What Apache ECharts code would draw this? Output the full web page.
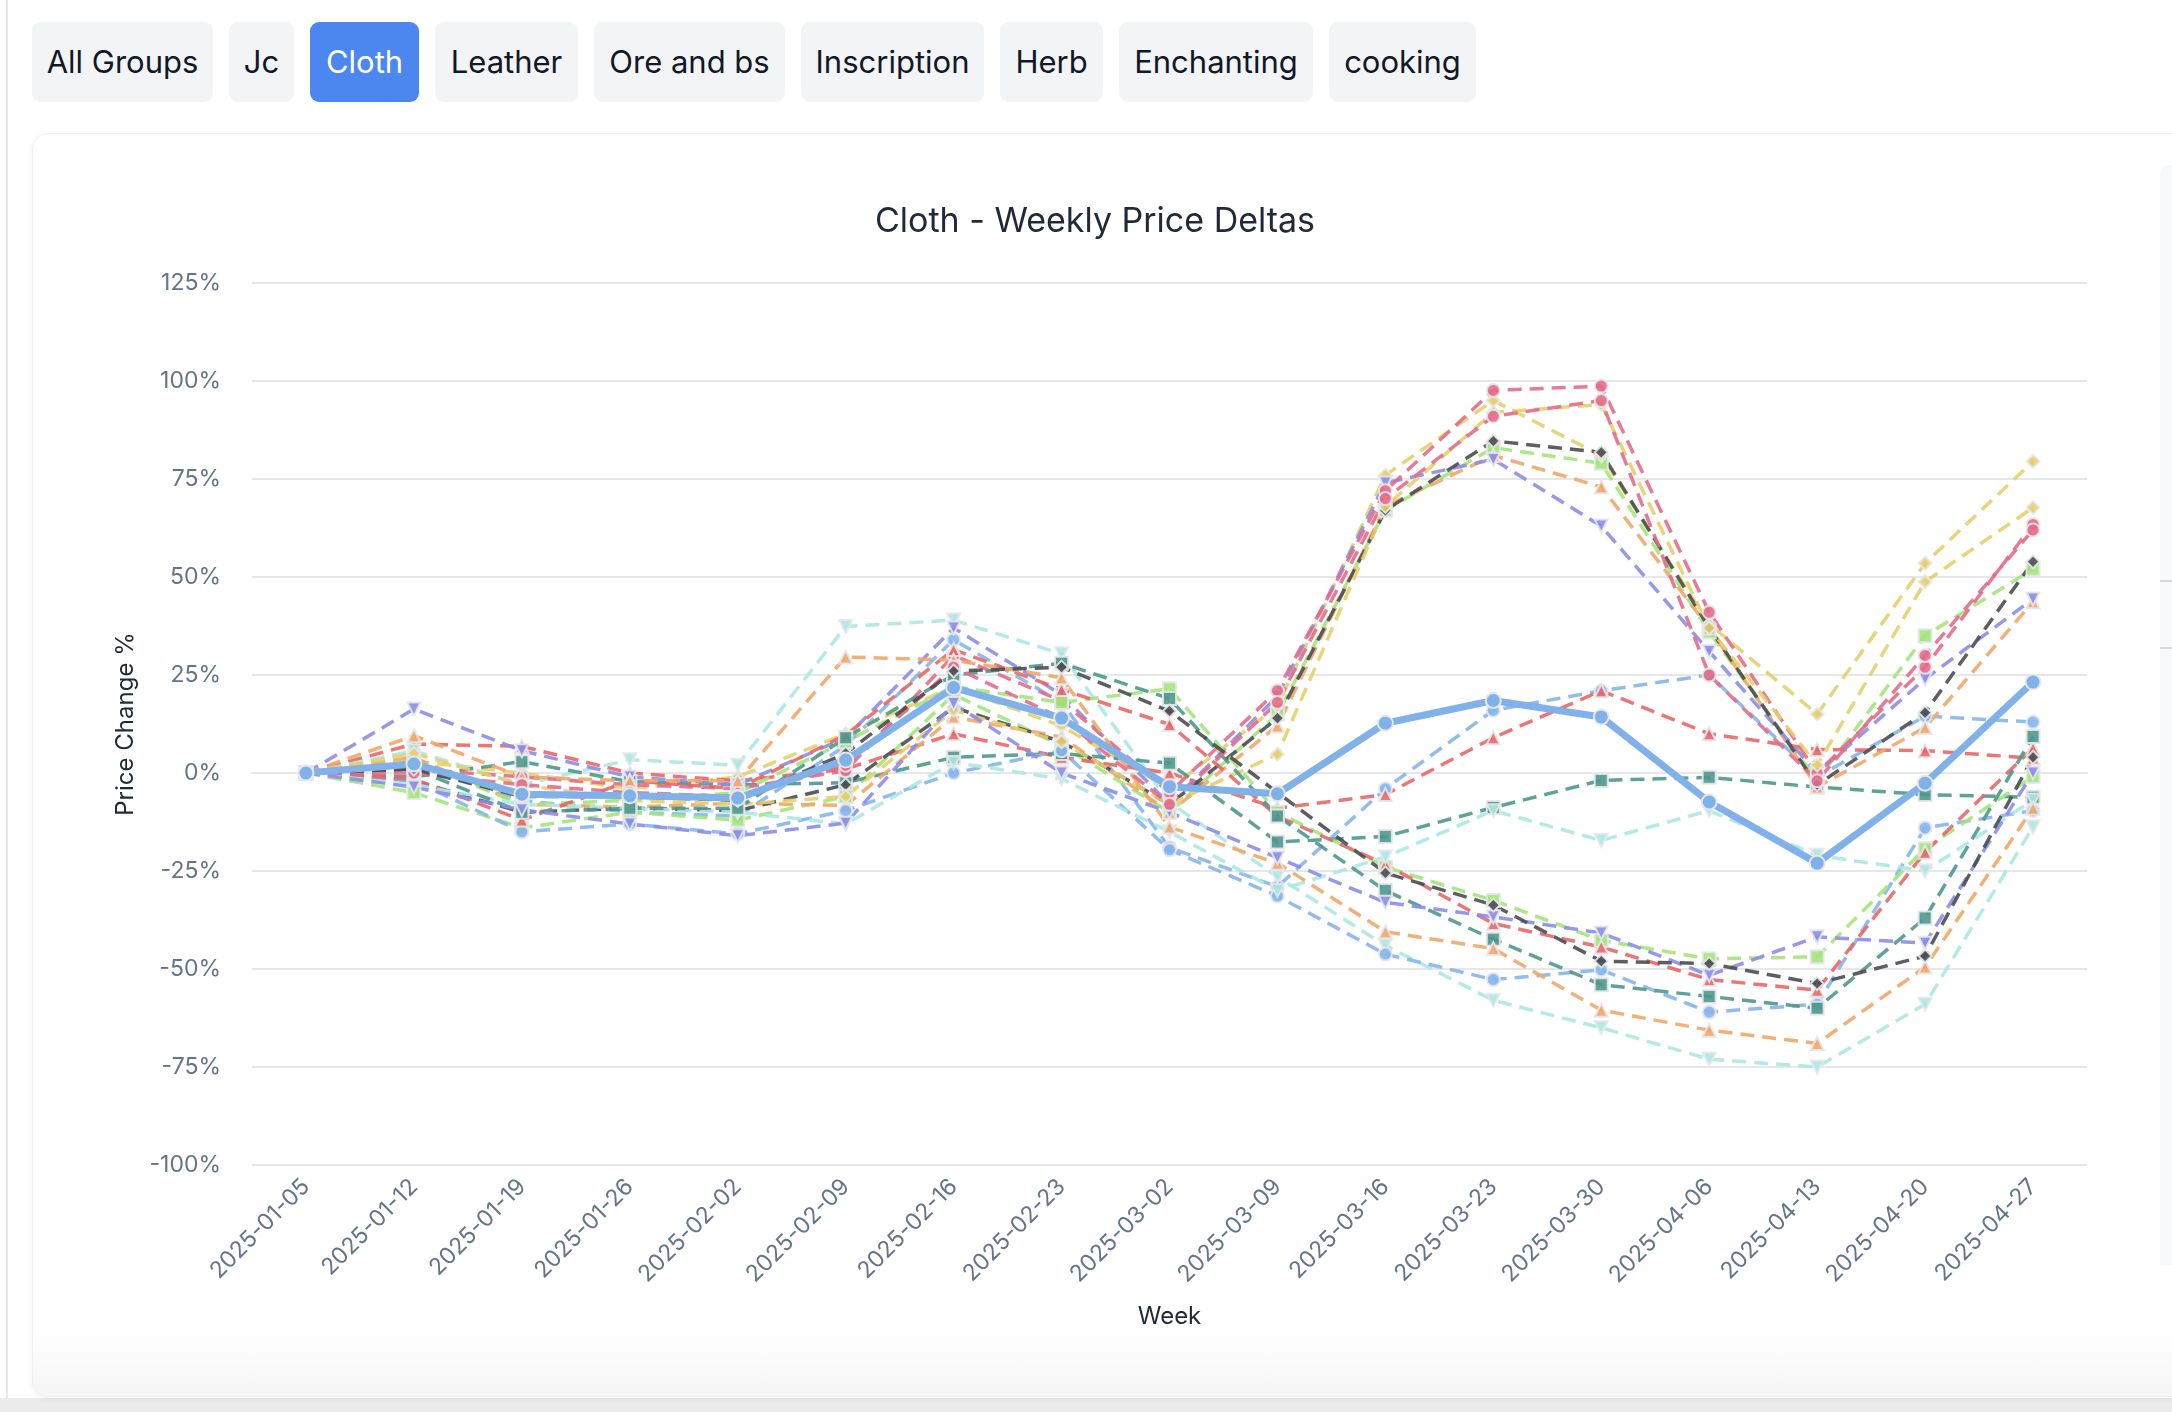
<!DOCTYPE html>
<html>
<head>
<meta charset="utf-8">
<script src="https://cdn.jsdelivr.net/npm/echarts@6/dist/echarts.min.js"></script>
<style>
  html, body { margin: 0; padding: 0; }
  body {
    width: 2172px; height: 1412px; overflow: hidden; position: relative;
    background: #ffffff; font-family: Inter, "Noto Sans", sans-serif;
  }
  .edge { position: absolute; left: 6px; top: 0; width: 2px; height: 1412px; background: #e5e7eb; }
  .bottom-band { position: absolute; left: 0; top: 1398px; width: 2172px; height: 14px; background: #ebebeb; }
  .tabs { position: absolute; left: 32px; top: 22px; display: flex; gap: 16px; }
  .tab {
    height: 80px; line-height: 80px; text-align: center; border-radius: 9px;
    background: #f3f4f6; color: #111827; font-size: 31px; box-sizing: border-box;
  }
  .tab.active { background: #4b87ef; color: #ffffff; }
  .card {
    position: absolute; left: 32px; top: 133px; width: 2220px; height: 1264px;
    border: 1px solid #eef0f3; border-radius: 16px; background: #fff;
    box-shadow: 0 2px 6px rgba(0,0,0,0.05); box-sizing: border-box; overflow: hidden;
  }
  .card-fade { position: absolute; left: 0; bottom: 0; width: 100%; height: 70px;
    background: linear-gradient(#ffffff, #f6f6f6); }
  .side { position: absolute; left: 2160px; top: 165px; width: 40px; height: 1100px;
    background: #f8f9fb; border-radius: 10px 0 0 0; }
  .side i { position: absolute; left: 0; width: 40px; height: 2px; background: #d6d9de; }
  #chart { position: absolute; left: 32px; top: 134px; width: 2126px; height: 1262px; }
</style>
</head>
<body>
<div class="edge"></div>
<div class="bottom-band"></div>
<div class="tabs">
  <div class="tab" style="width:181px">All Groups</div>
  <div class="tab" style="width:65px">Jc</div>
  <div class="tab active" style="width:109px">Cloth</div>
  <div class="tab" style="width:143px">Leather</div>
  <div class="tab" style="width:191px">Ore and bs</div>
  <div class="tab" style="width:183px">Inscription</div>
  <div class="tab" style="width:103px">Herb</div>
  <div class="tab" style="width:194px">Enchanting</div>
  <div class="tab" style="width:147px">cooking</div>
</div>
<div class="card"><div class="card-fade"></div></div>
<div class="side"><i style="top:415px"></i><i style="top:482px"></i></div>
<div id="chart"></div>
<script>
// weeks on the x axis
var weeks = ['2025-01-05', '2025-01-12', '2025-01-19', '2025-01-26', '2025-02-02', '2025-02-09',
  '2025-02-16', '2025-02-23', '2025-03-02', '2025-03-09', '2025-03-16', '2025-03-23',
  '2025-03-30', '2025-04-06', '2025-04-13', '2025-04-20', '2025-04-27'];

// weekly price change in % per item
var linen     = [0, 3, -7, -10, -11, 7, 34, 18, -19, -29, -4, 16, 21, 25, -1, 14.5, 13];
var wool      = [0, -5, -14, -10, -12, -6, 20, 7, -10, 15, 67, 83, 79, 36, -2, 35, 52];
var silk      = [0, 3, 0, -4, -1, 10, 22, 12, -4, 17, 76, 95, 81, 38, 15, 53.5, 79.5];
var mageweave = [0, 7.4, 6.8, 0, -2, 1, 10, 4, 0, -9, -5.5, 9, 21, 10, 6, 5.7, 3.8];
var runecloth = [0, 5.7, -3, 3.4, 2, 37.4, 39, 30.4, -7.5, -26.5, -44, -58, -65, -73, -75, -59, -13.8];
var felcloth  = [0, -1, 2.9, -2.2, -3, -2.5, 4, 5, 2.5, -17.6, -16.2, -8.8, -1.9, -1.1, -3.6, -5.5, -6.2];
var netherweave = [0, 4, -8, -8.7, -7.7, -8.3, 14.3, 9.2, -10, 12, 68, 81, 73, 37, -3.6, 11.6, 43.7];
var frostweave = [0, 16.3, 5.7, -1, -3, 9, 37, 20, -8, 19.6, 74, 80, 63, 31, 0, 24, 44.4];
var embersilk = [0, 1, -1, -3, -4, 0.6, 30, 18.4, -5, 21, 72, 97.6, 98.7, 41, 0, 27, 63.4];
var windwool  = [0, -2, -10, -9, -9.6, -3, 16.7, 8, -8, 14, 67, 84.7, 81.8, 37, -3, 15.4, 53.9];
var sunfire   = [0, -2, -15, -13, -15.5, -9.6, 0, 5.7, -19.6, -31.4, -46.2, -52.7, -50.2, -61, -59, -14, -9.6];
var mooncloth = [0, 3, -8, -7, -5, 8, 22, 18, 21.5, -10, -24, -32.5, -42.7, -47.4, -46.9, -19.3, -0.9];
var spellcloth = [0, 5, -3, -7, -8, -6, 16, 8, -8, 4.8, 68, 92, 94, 37, 2, 48.8, 67.7];
var shadowcloth = [0, -1.5, -12, -2, -4, 9.7, 31.5, 21.3, 12.4, -11, -23.3, -38.4, -44.4, -52.7, -55.4, -20.2, 6.3];
var ebonweave = [0, -3, -8, -9, -10, -13, 2.7, -1.5, -15, -30, -21.4, -9.6, -17.2, -9.6, -21, -25, -6.9];
var moonshroud = [0, 1, -10, -9, -9, 9, 25, 28, 19, -11, -30, -42.4, -54, -57, -60, -37, 9.3];
var spellweave = [0, 9.5, -1, -2, -2, 29.6, 28.8, 24.3, -13.8, -23, -40.5, -44.8, -60.5, -65.6, -69, -49.5, -9];
var dreamcloth = [0, -3.6, -9.4, -13, -16, -12.8, 17.7, 0, -10, -21.6, -33, -36.7, -40.8, -51.6, -41.8, -43.4, 0];
var shaldorei = [0, 0, -3, -5, -6, 2, 27, 14, -8, 18, 70, 91, 95, 25, -2, 30, 62];
var tidespray = [0, 1, -6, -6, -7, 5, 26, 27, 15.8, -5, -25.5, -33.7, -48, -48.6, -53.7, -46.7, 4];
var average   = [0, 2.3, -5.4, -5.8, -6.4, 3.3, 21.8, 14, -3.5, -5.3, 12.7, 18.5, 14.3, -7.4, -23, -2.6, 23.2];

var items = [
  ['Linen Cloth', linen], ['Wool Cloth', wool], ['Silk Cloth', silk], ['Mageweave Cloth', mageweave],
  ['Runecloth', runecloth], ['Felcloth', felcloth], ['Netherweave Cloth', netherweave],
  ['Frostweave Cloth', frostweave], ['Embersilk Cloth', embersilk], ['Windwool Cloth', windwool],
  ['Sunfire Silk', sunfire], ['Mooncloth', mooncloth], ['Spellcloth', spellcloth],
  ['Shadowcloth', shadowcloth], ['Ebonweave', ebonweave], ['Moonshroud', moonshroud],
  ['Spellweave', spellweave], ['Dreamcloth', dreamcloth], ["Shal'dorei Silk", shaldorei],
  ['Tidespray Linen', tidespray]
];
var colors = ['#86b5ec', '#a3e57a', '#e6cf6c', '#e86767', '#ace8e2', '#4e988c', '#f1a768', '#8c8de8', '#e46b8a', '#4b4c52'];
var symbols = ['circle', 'rect', 'diamond', 'triangle', 'triangle', 'rect', 'triangle', 'triangle', 'circle', 'diamond'];
var rotates = [0, 0, 0, 0, 180, 0, 0, 180, 0, 0];

var chart = echarts.init(document.getElementById('chart'));

var series = items.map(function (it, i) {
  var k = i % 10;
  return {
    name: it[0],
    type: 'line',
    data: it[1],
    symbol: symbols[k],
    symbolRotate: rotates[k],
    symbolSize: 13,
    lineStyle: { width: 3.5, type: [14, 8], color: colors[k], opacity: 0.9 },
    itemStyle: { color: colors[k], borderColor: '#e5e7eb', borderWidth: 2, opacity: 0.9 }
  };
});
series.push({
  name: 'Cloth Average',
  type: 'line',
  data: average,
  symbol: 'circle',
  symbolSize: 15,
  lineStyle: { width: 7, color: '#80b1e8' },
  itemStyle: { color: '#80b1e8', borderColor: '#e5e7eb', borderWidth: 2 },
  z: 5
});

var option = {
  animation: false,
  textStyle: { fontFamily: 'Inter, "Noto Sans", sans-serif' },
  title: {
    text: 'Cloth - Weekly Price Deltas',
    left: 'center',
    top: 66,
    textStyle: { fontSize: 34, fontWeight: 'normal', color: '#1f2937' }
  },
  tooltip: { trigger: 'axis' },
  grid: { left: 220, right: 71, top: 149, bottom: 231 },
  xAxis: {
    type: 'category',
    data: weeks,
    boundaryGap: true,
    name: 'Week',
    nameLocation: 'middle',
    nameGap: 140,
    nameTextStyle: { fontSize: 24, color: '#1f2937' },
    axisLine: { lineStyle: { color: '#e5e7eb', width: 2 } },
    axisTick: { show: false },
    axisLabel: { rotate: 45, fontSize: 23, color: '#64748b', margin: 18 }
  },
  yAxis: {
    type: 'value',
    min: -100,
    max: 125,
    interval: 25,
    name: 'Price Change %',
    nameLocation: 'middle',
    nameGap: 114,
    nameTextStyle: { fontSize: 24, color: '#1f2937' },
    axisLabel: { formatter: '{value}%', fontSize: 23, color: '#64748b', margin: 31 },
    splitLine: { lineStyle: { color: '#e5e7eb', width: 2 } }
  },
  series: series
};

chart.setOption(option);
</script>
</body>
</html>
